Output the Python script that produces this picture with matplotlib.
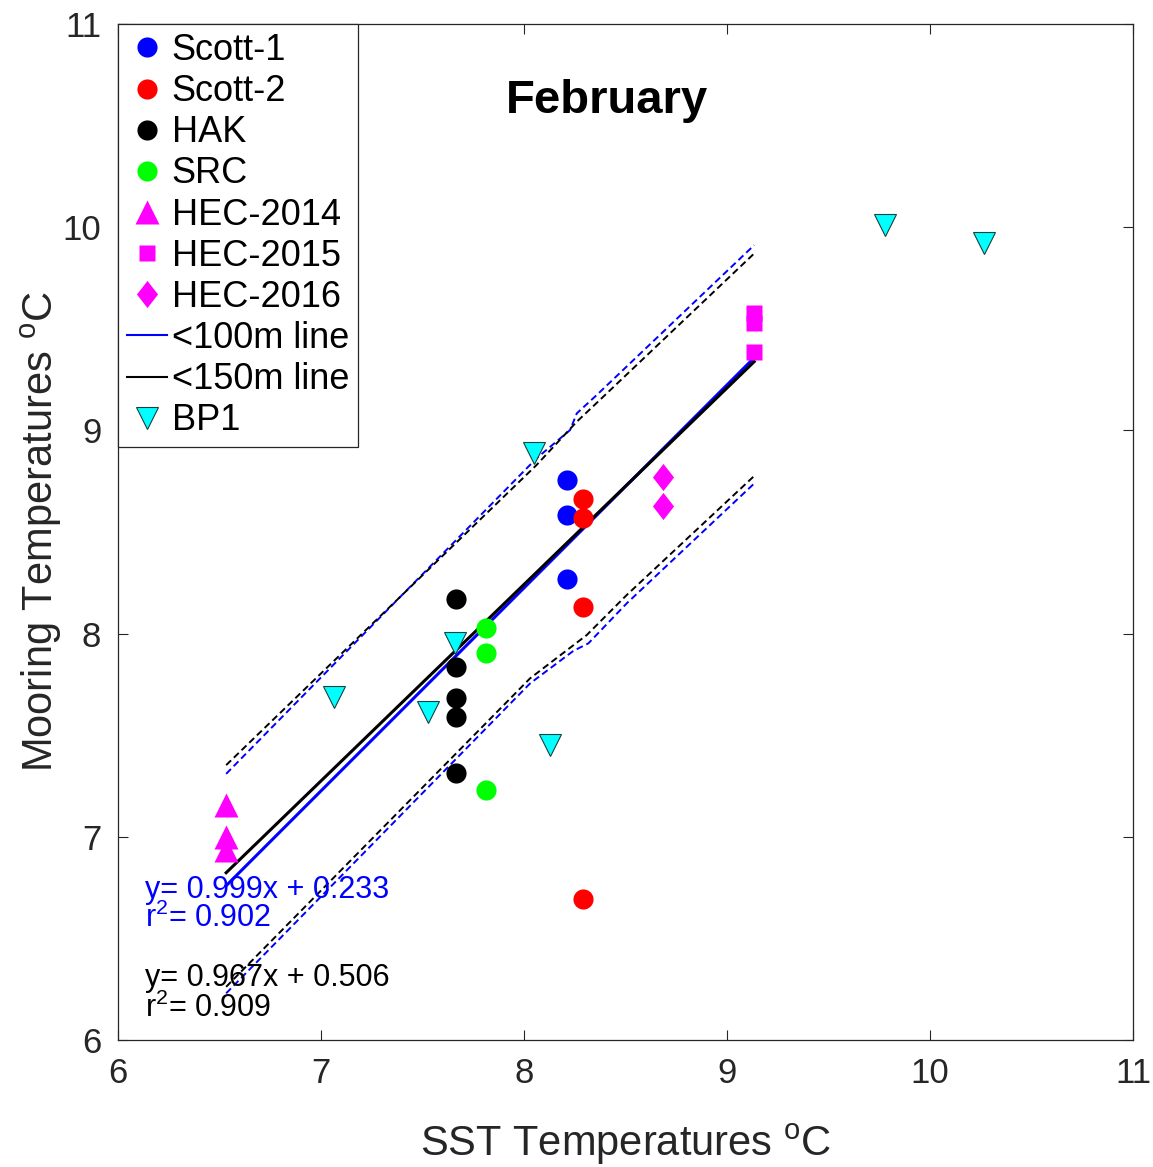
import numpy as np
import matplotlib
matplotlib.use("Agg")
import matplotlib.pyplot as plt

plt.rcParams['font.family'] = ['Liberation Sans', 'DejaVu Sans']
plt.rcParams['mathtext.fontset'] = 'custom'
plt.rcParams['mathtext.rm'] = 'Liberation Sans'
plt.rcParams['mathtext.it'] = 'Liberation Sans'

# --- data ---
scott1_x = [8.21, 8.21, 8.21]
scott1_y = [8.756, 8.584, 8.269]
scott2_x = [8.289, 8.289, 8.289, 8.289]
scott2_y = [8.661, 8.567, 8.132, 6.694]
hak_x = [7.663, 7.663, 7.663, 7.663, 7.663]
hak_y = [8.170, 7.834, 7.682, 7.588, 7.312]
src_x = [7.813, 7.813, 7.813]
src_y = [8.026, 7.903, 7.230]
hec14_x = [6.533, 6.533, 6.533]
hec14_y = [7.157, 7.001, 6.935]
hec15_x = [9.134, 9.134, 9.134]
hec15_y = [9.578, 9.530, 9.387]
hec16_x = [8.686, 8.686]
hec16_y = [8.772, 8.628]
bp1_x = [8.051, 7.660, 7.526, 8.128, 7.064, 9.778, 10.268]
bp1_y = [8.887, 7.955, 7.616, 7.452, 7.689, 10.010, 9.921]

# regression lines (fit range)
fit_x = [6.533, 9.134]
fit100 = (0.999, 0.233)
fit150 = (0.967, 0.506)

# prediction bands (dashed)
up100_x = [6.533, 8.062, 8.227, 8.26, 8.358, 9.134]
up100_y = [7.31, 8.863, 9.002, 9.084, 9.174, 9.912]
up150_x = [6.533, 8.062, 8.26, 8.399, 9.134]
up150_y = [7.353, 8.83, 9.043, 9.174, 9.871]
lo100_x = [6.533, 8.03, 8.243, 8.317, 8.506, 9.134]
lo100_y = [6.23, 7.755, 7.915, 7.952, 8.149, 8.739]
lo150_x = [6.533, 8.03, 8.309, 8.506, 9.134]
lo150_y = [6.262, 7.78, 7.993, 8.19, 8.776]

eq100 = ["y= 0.999x + 0.233", "r$^2$= 0.902"]
eq150 = ["y= 0.967x + 0.506", "r$^2$= 0.909"]

fig = plt.figure(figsize=(11.53, 11.67), dpi=100)
ax = fig.add_axes([0.1023, 0.1088, 0.8804, 0.8706])

dash = (0, (3.5, 2))
ax.plot(up100_x, up100_y, color='blue', lw=1.4, ls=dash, zorder=2)
ax.plot(lo100_x, lo100_y, color='blue', lw=1.4, ls=dash, zorder=2)
ax.plot(up150_x, up150_y, color='black', lw=1.4, ls=dash, zorder=2)
ax.plot(lo150_x, lo150_y, color='black', lw=1.4, ls=dash, zorder=2)

fx = np.array(fit_x)
l100, = ax.plot(fx, fit100[0] * fx + fit100[1], color='blue', lw=2.2, zorder=3)
l150, = ax.plot(fx, fit150[0] * fx + fit150[1], color='black', lw=2.2, zorder=3)

diamond = [(0, 1), (0.78, 0), (0, -1), (-0.78, 0), (0, 1)]

h1, = ax.plot(scott1_x, scott1_y, 'o', color='blue', ms=14.5, mec='none', zorder=4)
h2, = ax.plot(scott2_x, scott2_y, 'o', color='red', ms=14.5, mec='none', zorder=4)
h3, = ax.plot(hak_x, hak_y, 'o', color='black', ms=14.5, mec='none', zorder=4)
h4, = ax.plot(src_x, src_y, 'o', color='#00ff00', ms=14.5, mec='none', zorder=4)
h5, = ax.plot(hec14_x, hec14_y, '^', color='magenta', ms=17, mec='none', zorder=4)
h6, = ax.plot(hec15_x, hec15_y, 's', color='magenta', ms=12.2, mec='none', zorder=4)
h7, = ax.plot(hec16_x, hec16_y, marker=diamond, ls='none', color='magenta', ms=19.5, mec='none', zorder=4)
h8, = ax.plot(bp1_x, bp1_y, 'v', color='cyan', ms=16.5, mec='#1a4040', mew=0.8, zorder=5)

# equations
ax.text(6.133, 6.738, eq100[0], color='blue', fontsize=22, va='center', ha='left')
ax.text(6.133, 6.600, eq100[1], color='blue', fontsize=22, va='center', ha='left')
ax.text(6.133, 6.305, eq150[0], color='black', fontsize=22, va='center', ha='left')
ax.text(6.133, 6.157, eq150[1], color='black', fontsize=22, va='center', ha='left')

ax.text(8.41, 10.62, "February", fontsize=34, fontweight='bold', ha='center', va='center')

ax.set_xlim(6, 11)
ax.set_ylim(6, 11)
ax.set_xticks(range(6, 12))
ax.set_yticks(range(6, 12))
ax.tick_params(direction='in', length=7, width=0.8, top=True, right=True,
               labelsize=25, colors='#262626', pad=12)
for s in ax.spines.values():
    s.set_color('#262626')
    s.set_linewidth(0.9)

ax.set_xlabel(r"SST Temperatures $^{\rm o}$C", fontsize=30, color='#262626', labelpad=23)
ax.set_ylabel(r"Mooring Temperatures $^{\rm o}$C", fontsize=30, color='#262626', labelpad=-1)

handles = [h1, h2, h3, h4, h5, h6, h7, l100, l150, h8]
labels = ["Scott-1", "Scott-2", "HAK", "SRC", "HEC-2014", "HEC-2015", "HEC-2016",
          "<100m line", "<150m line", "BP1"]
leg = ax.legend(handles, labels, loc='upper left', borderaxespad=0, fontsize=26,
                fancybox=False, framealpha=1, edgecolor='#262626',
                labelspacing=0.17, handlelength=1.12, handletextpad=0.12,
                borderpad=0.25)
leg.get_frame().set_linewidth(0.9)
for lh in leg.get_lines():
    lh.set_linewidth(1.5)

fig.savefig("out.png", dpi=100)
